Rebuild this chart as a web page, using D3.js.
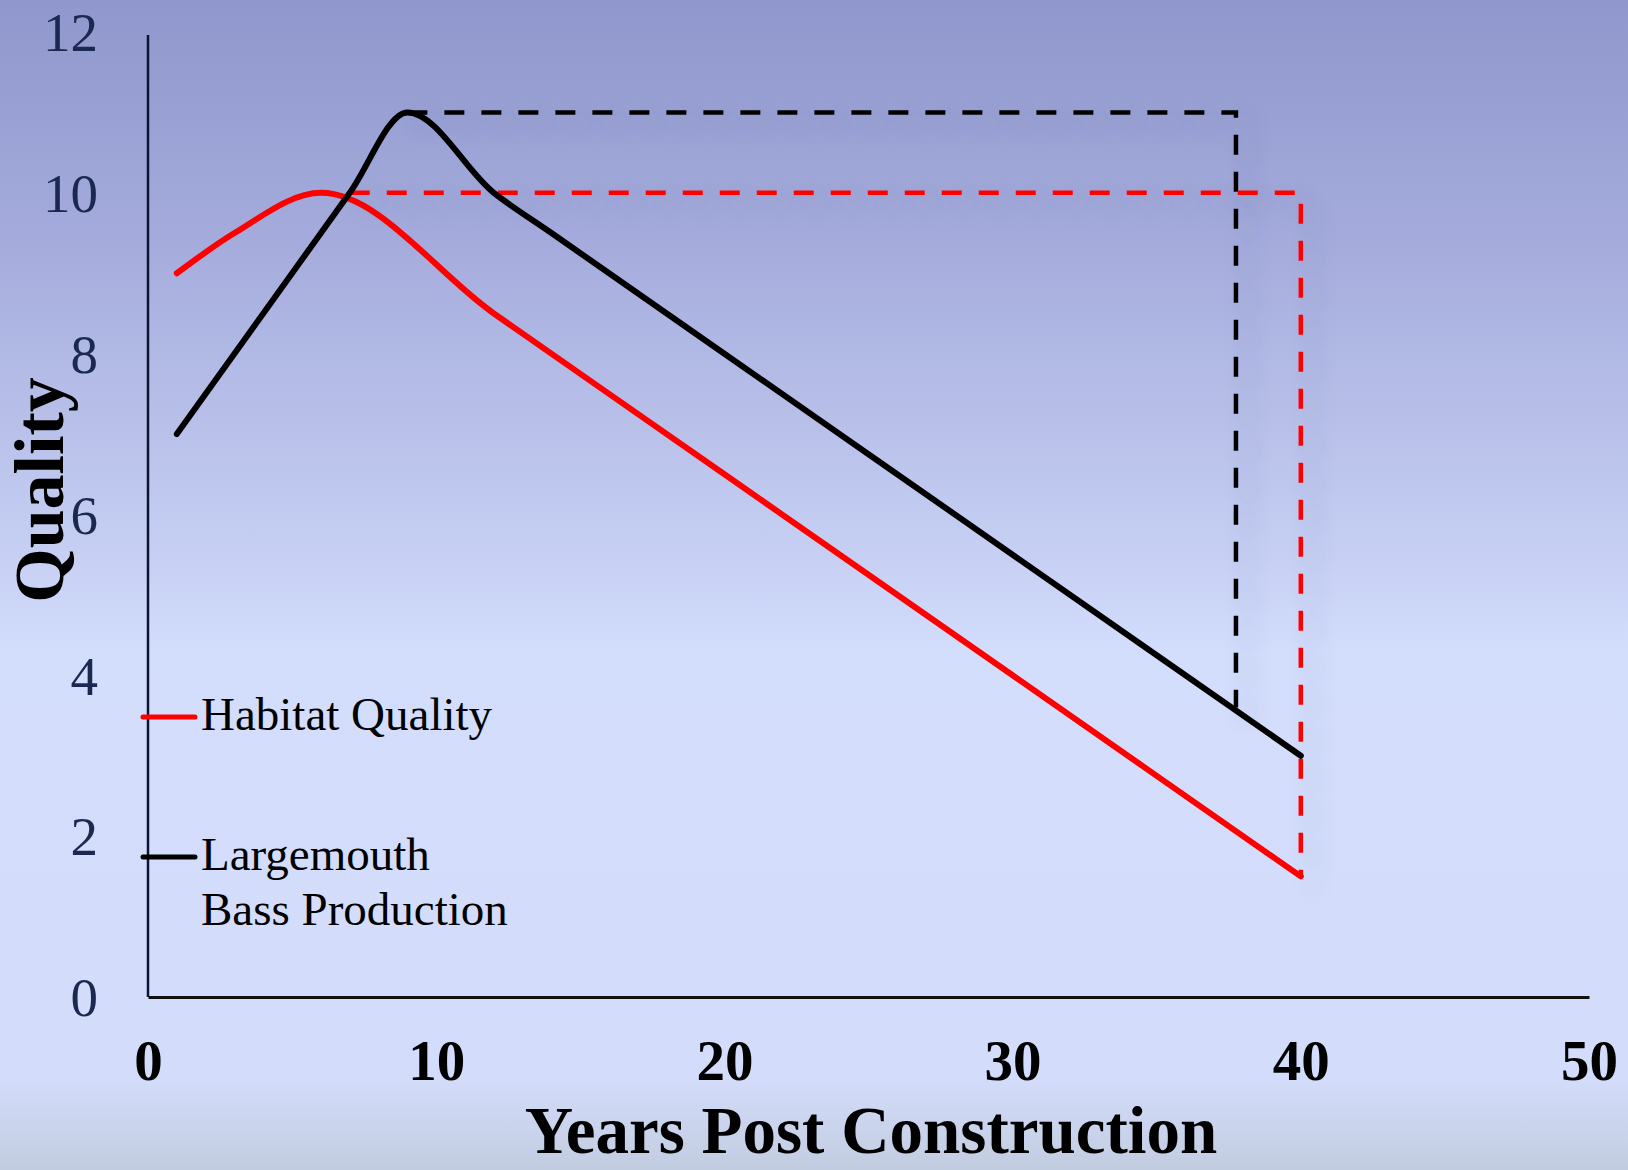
<!DOCTYPE html>
<html>
<head>
<meta charset="utf-8">
<script src="https://cdn.jsdelivr.net/npm/d3@7"></script>
<style>
  html, body { margin: 0; padding: 0; }
  body { width: 1628px; height: 1170px; overflow: hidden; }
</style>
</head>
<body>
<svg id="svg1" width="1628" height="1170"></svg>
<script>
"use strict";

// values
const habitatYears   = [1, 3, 6, 12, 20, 30, 40];
const habitatQuality = [9, 9.5, 10, 8.5, 6.5, 4, 1.5];
const bassYears      = [1, 7, 9, 12, 14, 20, 30, 40];
const bassQuality    = [7, 10, 11, 10, 9.5, 8, 5.5, 3];
// dashed "limit" lines: [x, y] corners
const habitatLimit   = [[7, 10], [40, 10], [40, 1.5]];
const bassLimit      = [[9, 11], [37.75, 11], [37.75, 3.6]];
const xTicks = [0, 10, 20, 30, 40, 50];
const yTicks = [0, 2, 4, 6, 8, 10, 12];

const svg = d3.select("#svg1");
const defs = svg.append("defs");

// slide background
const bg = defs.append("linearGradient").attr("id", "bg")
  .attr("x1", 0).attr("y1", 0).attr("x2", 0).attr("y2", 1);
bg.append("stop").attr("offset", "0").attr("stop-color", "#8f97cc");
bg.append("stop").attr("offset", "0.2").attr("stop-color", "#a4abdc");
bg.append("stop").attr("offset", "0.45").attr("stop-color", "#c3ccf1");
bg.append("stop").attr("offset", "0.56").attr("stop-color", "#d3ddfc");
bg.append("stop").attr("offset", "0.92").attr("stop-color", "#d3ddfb");
bg.append("stop").attr("offset", "1").attr("stop-color", "#c2cce0");
svg.append("rect").attr("width", 1628).attr("height", 1170).attr("fill", "url(#bg)");

const shadow = defs.append("filter").attr("id", "shadow")
  .attr("x", "-10%").attr("y", "-10%").attr("width", "130%").attr("height", "130%");
shadow.append("feDropShadow").attr("dx", 12).attr("dy", 10).attr("stdDeviation", 10)
  .attr("flood-color", "#4a5070").attr("flood-opacity", 0.32);

const x = d3.scaleLinear().domain([0, 50]).range([148, 1589]);
const y = d3.scaleLinear().domain([0, 12]).range([997, 32]);

// axes
const xAxis = svg.append("g")
  .attr("transform", `translate(0,${y(0)})`)
  .call(d3.axisBottom(x).tickValues(xTicks).tickSize(0));
xAxis.select(".domain").attr("stroke", "#111").attr("stroke-width", 3);
xAxis.selectAll(".tick text")
  .attr("font-family", "'Liberation Serif', serif")
  .attr("font-weight", "bold")
  .attr("font-size", 57)
  .attr("fill", "#000")
  .attr("dy", 0)
  .attr("y", 83);

const yAxis = svg.append("g")
  .attr("transform", `translate(${x(0)},0)`)
  .call(d3.axisLeft(y).tickValues(yTicks).tickSize(0).tickPadding(50));
yAxis.select(".domain").attr("stroke", "#0d1430").attr("stroke-width", 2.5)
  .attr("d", `M0,${y(0)}V35`);
yAxis.selectAll(".tick text")
  .attr("font-family", "'Liberation Serif', serif")
  .attr("font-size", 55)
  .attr("fill", "#1b2850")
  .attr("dy", "0.34em");

// dashed limit lines
const dashLine = d3.line().x(d => x(d[0])).y(d => y(d[1]));
svg.append("path").datum(bassLimit)
  .attr("d", dashLine).attr("fill", "none")
  .attr("stroke", "#000").attr("stroke-width", 4.5)
  .attr("stroke-dasharray", "20,17")
  .attr("filter", "url(#shadow)");
svg.append("path").datum(habitatLimit)
  .attr("d", dashLine).attr("fill", "none")
  .attr("stroke", "#ff0000").attr("stroke-width", 4.5)
  .attr("stroke-dasharray", "20,17")
  .attr("filter", "url(#shadow)");

// series
const line = d3.line().x(d => x(d[0])).y(d => y(d[1])).curve(d3.curveMonotoneX);
svg.append("path").datum(habitatYears.map((d, i) => [d, habitatQuality[i]]))
  .attr("d", line).attr("fill", "none")
  .attr("stroke", "#ff0000").attr("stroke-width", 6).attr("stroke-linecap", "round");
svg.append("path").datum(bassYears.map((d, i) => [d, bassQuality[i]]))
  .attr("d", line).attr("fill", "none")
  .attr("stroke", "#000").attr("stroke-width", 6).attr("stroke-linecap", "round");

// legend
const legendData = [
  { lines: ["Habitat Quality"], color: "#ff0000", y: 717 },
  { lines: ["Largemouth", "Bass Production"], color: "#000", y: 857 }
];
const legend = svg.selectAll(".legend").data(legendData).enter()
  .append("g").attr("class", "legend")
  .attr("transform", d => `translate(0,${d.y})`);
legend.append("line")
  .attr("x1", 143).attr("x2", 195).attr("y1", 0).attr("y2", 0)
  .attr("stroke", d => d.color).attr("stroke-width", 5).attr("stroke-linecap", "round");
legend.append("text")
  .attr("x", 201).attr("y", 13)
  .attr("font-family", "'Liberation Serif', serif")
  .attr("font-size", 47)
  .attr("fill", "#000")
  .selectAll("tspan").data(d => d.lines).enter()
  .append("tspan").attr("x", 201).attr("dy", (d, i) => i === 0 ? 0 : 55).text(d => d);

// axis titles
svg.append("text")
  .attr("x", 871).attr("y", 1153)
  .attr("text-anchor", "middle")
  .attr("font-family", "'Liberation Serif', serif")
  .attr("font-weight", "bold")
  .attr("font-size", 67)
  .attr("fill", "#000")
  .text("Years Post Construction");

svg.append("text")
  .attr("transform", "translate(63,490) rotate(-90)")
  .attr("text-anchor", "middle")
  .attr("font-family", "'Liberation Serif', serif")
  .attr("font-weight", "bold")
  .attr("font-size", 70)
  .attr("fill", "#000")
  .text("Quality");
</script>
</body>
</html>
